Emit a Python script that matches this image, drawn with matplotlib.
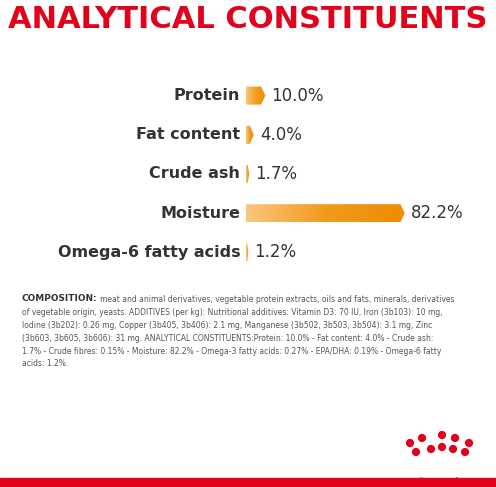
import numpy as np
import matplotlib.pyplot as plt
from matplotlib.patches import Polygon, Rectangle, Arc
from matplotlib.colors import LinearSegmentedColormap

labels = ['Protein', 'Fat content', 'Crude ash', 'Moisture', 'Omega-6 fatty acids']
values = [10.0, 4.0, 1.7, 82.2, 1.2]
value_text = ['10.0%', '4.0%', '1.7%', '82.2%', '1.2%']

FIRST_LINE = "meat and animal derivatives, vegetable protein extracts, oils and fats, minerals, derivatives"
REST = ("of vegetable origin, yeasts. ADDITIVES (per kg): Nutritional additives: Vitamin D3: 70 IU, Iron (3b103): 10 mg,\n"
        "Iodine (3b202): 0.26 mg, Copper (3b405, 3b406): 2.1 mg, Manganese (3b502, 3b503, 3b504): 3.1 mg, Zinc\n"
        "(3b603, 3b605, 3b606): 31 mg. ANALYTICAL CONSTITUENTS:Protein: 10.0% - Fat content: 4.0% - Crude ash:\n"
        "1.7% - Crude fibres: 0.15% - Moisture: 82.2% - Omega-3 fatty acids: 0.27% - EPA/DHA: 0.19% - Omega-6 fatty\n"
        "acids: 1.2%.")

RED = '#e2001a'
W, H = 496, 487

fig = plt.figure(figsize=(W / 100, H / 100), dpi=100)
bg = fig.add_axes([0, 0, 1, 1])
bg.set_xlim(0, W)
bg.set_ylim(H, 0)
bg.axis('off')

bg.text(248, 20, 'ANALYTICAL CONSTITUENTS', color=RED, fontsize=22, fontweight='bold',
        ha='center', va='center')
bg.add_patch(Rectangle((0, 478), W, 9, color=RED))

# composition text
head = bg.text(22, 294, 'COMPOSITION:', fontsize=6.4, fontweight='bold', color='#333333',
               ha='left', va='top')
r = fig.canvas.get_renderer()
bb = head.get_window_extent(r)
x_end = bg.transData.inverted().transform((bb.x1, bb.y1))[0]
bg.text(x_end + 2, 294.5, FIRST_LINE, fontsize=5.5, color='#555555', ha='left', va='top')
bg.text(22, 308, REST, fontsize=5.5, color='#555555', ha='left', va='top', linespacing=1.55)

# crown logo
for cx, cy in [(408, 443), (420, 438), (440, 435), (453, 438), (467, 443),
               (414, 452), (429, 449), (440, 447), (451, 449), (463, 452)]:
    bg.add_patch(plt.Circle((cx + 2, cy), 3.4, color=RED))
bg.add_patch(Arc((439, 472), 48, 24, theta1=20, theta2=160, color=RED, lw=3.5))

# bars
ax = fig.add_axes([246 / W, 1 - 272 / H, 193 / W, 196 / H])
ax.set_xlim(0, 100)
ax.set_ylim(len(values) - 0.5, -0.5)
ax.axis('off')
cmap = LinearSegmentedColormap.from_list('o', ['#f9c77e', '#f29a1e', '#ef8c00'])
grad = np.linspace(0, 1, 256).reshape(1, -1)
bh = 0.23
for i, (v, t) in enumerate(zip(values, value_text)):
    tip = min(2.2, v * 0.5)
    body = max(v - tip, 0.3)
    poly = Polygon([(0, i - bh), (body, i - bh), (body + tip, i), (body, i + bh), (0, i + bh)],
                   closed=True, fc='none', ec='none')
    ax.add_patch(poly)
    im = ax.imshow(grad, cmap=cmap, extent=(0, max(v, 2), i + bh, i - bh), aspect='auto')
    im.set_clip_path(poly)
    ax.text(v + 3.2, i, t, fontsize=12, color='#333333', va='center', ha='left')
    ax.text(-3, i, labels[i], fontsize=11.5, fontweight='bold', color='#333333',
            va='center', ha='right')
ax.set_xlim(0, 100)
ax.set_ylim(len(values) - 0.5, -0.5)

fig.savefig('out.png', dpi=100, facecolor='white')
